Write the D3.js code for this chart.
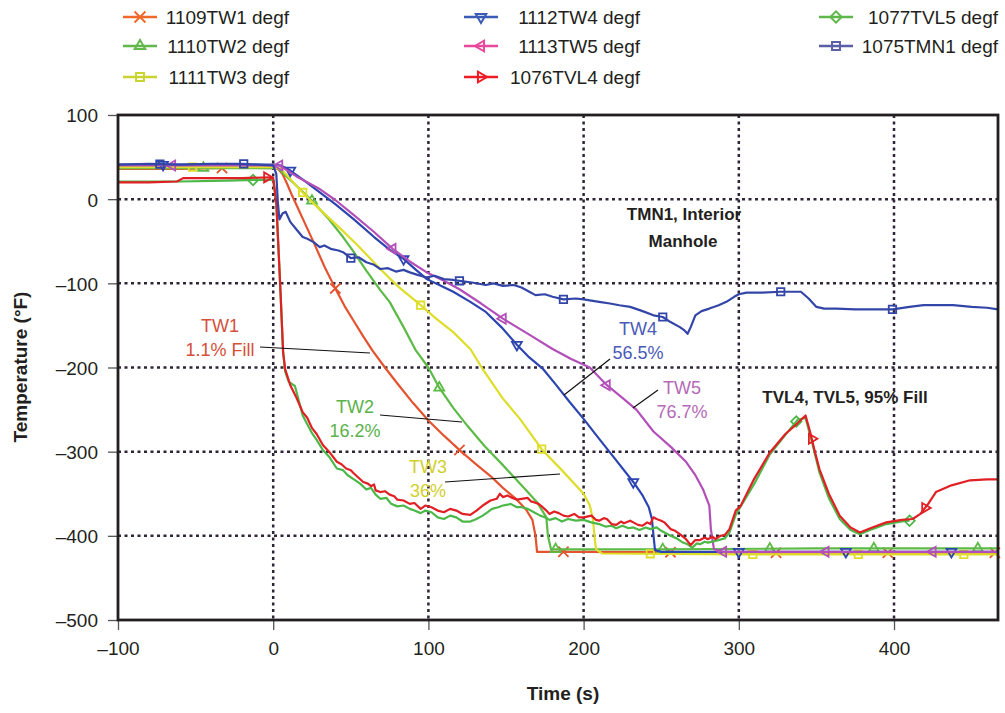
<!DOCTYPE html>
<html>
<head>
<meta charset="utf-8">
<script src="https://cdn.jsdelivr.net/npm/d3@7"></script>
<style>
  body { margin: 0; background: #fff; }
  svg { font-family: "Liberation Sans", Arial, sans-serif; }
  .grid line { stroke: #2e2436; stroke-width: 2.5; stroke-dasharray: 3,3.5; }
  .axis text { font-size: 19px; fill: #231f20; }
  .axis line { stroke: #555; stroke-width: 1.3; }
  .axis path { display: none; }
</style>
</head>
<body>
<svg width="1005" height="713"></svg>
<script>
// [time (s), temperature (°F)]
var tw1 = [[-100,36],[-60,36],[-30,37],[0,37],[3,36],[6,30],[9,18],[12,5],[15,-7],[20,-27],[26,-51],[33,-80],[40,-106],[46,-127],[52,-145],[58,-163],[64,-180],[72,-200],[80,-219],[90,-242],[100,-263],[110,-281],[120,-298],[130,-314],[140,-329],[148,-343],[157,-357],[163,-369],[167,-381],[169,-400],[170,-419],[200,-419],[300,-420],[400,-420],[467,-420]];
var tw2 = [[-100,37],[-50,37],[0,37],[3,37],[8,28],[15,16],[25,-2],[35,-22],[45,-45],[52,-63],[60,-85],[69,-108],[75,-122],[84,-152],[92,-180],[100,-200],[107,-224],[116,-248],[125,-269],[136,-293],[148,-316],[160,-340],[170,-360],[176,-378],[177,-400],[179,-416],[250,-416],[350,-415],[467,-415]];
var tw3 = [[-100,38],[-50,38],[0,38],[5,36],[12,22],[19,8],[26,-5],[34,-19],[45,-38],[55,-56],[69,-83],[80,-103],[95,-126],[105,-142],[116,-158],[127,-178],[135,-202],[148,-237],[159,-261],[173,-297],[187,-324],[200,-350],[204,-364],[206,-380],[207,-400],[208,-416],[212,-421],[300,-422],[467,-422]];
var tw4 = [[-100,41],[-50,41],[0,41],[5,40],[11,34],[20,22],[30,8],[40,-6],[52,-24],[65,-45],[75,-60],[84,-71],[92,-84],[99,-95],[108,-103],[116,-110],[127,-122],[137,-134],[147,-152],[157,-173],[165,-188],[174,-202],[182,-220],[191,-241],[200,-261],[208,-280],[220,-308],[232,-336],[238,-352],[242,-366],[244,-380],[245,-399],[246,-417],[250,-419],[467,-419]];
var tw5 = [[-100,40],[-50,40],[0,40],[4,40],[15,27],[30,12],[40,-1],[52,-19],[65,-39],[77,-59],[88,-74],[99,-87],[110,-97],[120,-107],[134,-124],[148,-142],[165,-161],[180,-178],[192,-190],[204,-200],[215,-221],[225,-236],[234,-250],[245,-276],[256,-294],[266,-312],[272,-328],[277,-345],[281,-364],[282,-392],[284,-416],[290,-419],[467,-419]];
var tvl4 = [[-100,20],[-80,20],[-62,21],[-58,25],[-40,25],[-20,25],[-2,26],[0,25],[2,-4],[4.5,-102],[6.4,-182],[7.7,-202],[11,-221],[15,-236],[19,-253],[22,-260],[25,-272],[28,-279],[32,-292],[36,-300],[41,-312],[44,-315],[47,-320],[50,-322],[52,-326],[55,-331],[58,-336],[61,-338],[63,-341],[65,-339],[66,-346],[69,-348],[72,-347],[75,-351],[78,-353],[80,-357],[84,-358],[88,-362],[91,-361],[95,-368],[98,-364],[102,-366],[106,-370],[110,-372],[114,-368],[118,-370],[122,-374],[127,-375],[131,-370],[135,-364],[140,-358],[144,-356],[146,-350],[148,-354],[151,-352],[153,-354],[157,-357],[160,-356],[164,-355],[166,-359],[168,-360],[171,-362],[173,-365],[176,-370],[178,-374],[181,-371],[184,-373],[187,-376],[190,-377],[194,-374],[197,-378],[200,-378],[205,-376],[208,-381],[210,-382],[213,-379],[215,-380],[218,-386],[221,-387],[224,-383],[226,-385],[230,-382],[232,-384],[235,-387],[238,-388],[241,-384],[243,-386],[245,-378],[247,-380],[250,-382],[252,-384],[256,-392],[259,-394],[262,-398],[266,-404],[269,-411],[272,-405],[275,-405],[278,-402],[280,-404],[283,-401],[285,-404],[288,-400],[291,-399],[294,-392],[298,-370],[301,-365],[310,-332],[320,-301],[330,-279],[338,-266],[343,-257],[346,-277],[349,-300],[352,-321],[358,-350],[365,-376],[372,-390],[378,-396],[386,-390],[395,-384],[405,-381],[412,-380],[417,-374],[422,-362],[427,-348],[437,-340],[449,-334],[460,-333],[467,-333]];
var tvl5 = [[-100,21],[-60,21],[-30,22],[-10,23],[0,23],[2,-4],[4.5,-102],[6.4,-182],[7.7,-205],[10,-217],[14,-222],[19,-257],[25,-278],[28,-286],[32,-298],[36,-306],[41,-320],[45,-322],[48,-328],[52,-333],[56,-338],[60,-345],[63,-343],[66,-351],[69,-356],[73,-355],[76,-362],[80,-365],[84,-364],[88,-368],[91,-370],[95,-373],[98,-370],[102,-372],[106,-378],[110,-380],[114,-376],[118,-378],[122,-383],[127,-383],[131,-380],[135,-376],[138,-372],[141,-368],[145,-366],[148,-364],[151,-363],[153,-362],[157,-366],[160,-366],[164,-368],[168,-372],[172,-376],[175,-378],[178,-381],[182,-379],[186,-383],[190,-380],[195,-382],[200,-381],[205,-384],[210,-386],[214,-389],[218,-388],[221,-391],[225,-388],[229,-391],[232,-390],[236,-393],[240,-390],[243,-392],[247,-390],[250,-394],[253,-397],[256,-400],[260,-403],[264,-408],[267,-410],[270,-414],[273,-409],[275,-410],[278,-407],[280,-408],[285,-406],[291,-403],[294,-396],[298,-375],[310,-338],[320,-303],[330,-280],[338,-262],[343,-260],[346,-280],[352,-325],[358,-355],[365,-380],[372,-393],[378,-398],[386,-392],[395,-386],[405,-383],[410,-382]];
var tmn1 = [[-100,41],[-80,42],[-60,41],[-40,42],[-20,42],[0,40],[2,30],[3,-4],[4,-24],[6,-17],[8,-15],[11,-27],[15,-36],[19,-45],[22,-47],[26,-51],[30,-57],[33,-55],[37,-59],[42,-61],[45,-63],[50,-70],[55,-69],[60,-75],[65,-78],[69,-83],[74,-82],[79,-86],[84,-84],[88,-87],[93,-90],[99,-93],[104,-91],[110,-95],[116,-96],[120,-97],[128,-99],[137,-102],[142,-100],[148,-103],[155,-102],[160,-105],[165,-110],[169,-114],[175,-113],[180,-116],[187,-119],[195,-118],[200,-119],[210,-122],[217,-124],[223,-126],[230,-128],[238,-133],[245,-138],[251,-140],[256,-146],[262,-152],[265,-156],[267,-160],[269,-152],[272,-138],[276,-133],[281,-130],[287,-126],[292,-122],[297,-116],[300,-113],[305,-111],[315,-111],[327,-110],[335,-110],[340,-110],[345,-118],[350,-128],[355,-130],[363,-130],[375,-131],[390,-131],[399,-131],[410,-128],[419,-126],[430,-126],[438,-126],[450,-128],[460,-129],[467,-131]];

// times where the series markers sit
var tw1Marks = [-33, 40, 120, 187, 256, 324, 396, 465];
var tw2Marks = [-45, 25, 107, 182, 251, 320, 387, 454];
var tw3Marks = [-52, 19, 95, 173, 243, 309, 377, 445];
var tw4Marks = [-71, 11, 84, 157, 232, 300, 369, 437];
var tw5Marks = [-65, 4, 77, 148, 215, 290, 356, 425];
var tvl4Marks = [-4, 347, 420];
var tvl5Marks = [-13, 337, 410];
var tmn1Marks = [-73, -19, 50, 120, 187, 251, 327, 399];

var xTicks = [-100, 0, 100, 200, 300, 400];
var yTicks = [-500, -400, -300, -200, -100, 0, 100];

var series = [
  {name: "1109TW1 degf", data: tw1, marks: tw1Marks, color: "#e4532f", legend: "#ef6a2a", shape: "x"},
  {name: "1110TW2 degf", data: tw2, marks: tw2Marks, color: "#5cba46", legend: "#62b84a", shape: "up"},
  {name: "1111TW3 degf", data: tw3, marks: tw3Marks, color: "#dede2a", legend: "#c9d433", shape: "square"},
  {name: "1112TW4 degf", data: tw4, marks: tw4Marks, color: "#2d45b0", legend: "#3b5bb5", shape: "down"},
  {name: "1113TW5 degf", data: tw5, marks: tw5Marks, color: "#b24fb8", legend: "#e8479b", shape: "left"},
  {name: "1076TVL4 degf", data: tvl4, marks: tvl4Marks, color: "#e02024", legend: "#ee1c25", shape: "right"},
  {name: "1077TVL5 degf", data: tvl5, marks: tvl5Marks, color: "#4cb848", legend: "#5fb94a", shape: "diamond"},
  {name: "1075TMN1 degf", data: tmn1, marks: tmn1Marks, color: "#3346a8", legend: "#5a5fa8", shape: "square"}
];

var svg = d3.select("svg");
var x = d3.scaleLinear().domain([-100, 467]).range([118, 998]);
var y = d3.scaleLinear().domain([-500, 100]).range([620, 115]);

function fmt(d) { return d < 0 ? "\u2013" + Math.abs(d) : d; }

// grid
var grid = svg.append("g").attr("class", "grid");
grid.selectAll(".gx").data(xTicks.filter(function(d) { return d > -100; }))
  .enter().append("line")
    .attr("x1", function(d) { return x(d); }).attr("x2", function(d) { return x(d); })
    .attr("y1", y(100)).attr("y2", y(-500));
grid.selectAll(".gy").data(yTicks.filter(function(d) { return d > -500 && d < 100; }))
  .enter().append("line")
    .attr("y1", function(d) { return y(d); }).attr("y2", function(d) { return y(d); })
    .attr("x1", x(-100)).attr("x2", x(467));

// axes
svg.append("g").attr("class", "axis")
    .attr("transform", "translate(" + x(-100) + ",0)")
    .call(d3.axisLeft(y).tickValues(yTicks).tickSize(10).tickPadding(10).tickFormat(fmt))
  .selectAll("text").attr("dy", "0.36em");
svg.append("g").attr("class", "axis")
    .attr("transform", "translate(0," + y(-500) + ")")
    .call(d3.axisBottom(x).tickValues(xTicks).tickSize(10).tickPadding(12).tickFormat(fmt));

function shapePath(s, size) {
  if (s === "x") return d3.symbol(d3.symbolTimes, size)();
  if (s === "square") return d3.symbol(d3.symbolSquare2, size)();
  if (s === "diamond") return d3.symbol(d3.symbolSquare2, size)();
  return d3.symbol(d3.symbolTriangle2, size)();
}
function shapeRot(s) {
  return {down: 180, left: -90, right: 90, diamond: 45}[s] || 0;
}
function valueAt(data, t) {
  var i = d3.bisector(function(d) { return d[0]; }).left(data, t);
  if (i <= 0) return data[0][1];
  if (i >= data.length) return data[data.length - 1][1];
  var a = data[i - 1], b = data[i];
  return a[1] + (b[1] - a[1]) * (t - a[0]) / (b[0] - a[0]);
}

var line = d3.line().x(function(d) { return x(d[0]); }).y(function(d) { return y(d[1]); });
var drawOrder = [0, 1, 2, 3, 4, 6, 5, 7];
var plot = svg.append("g");
drawOrder.forEach(function(k) {
  var s = series[k];
  plot.append("path").datum(s.data)
    .attr("d", line).attr("fill", "none")
    .attr("stroke", s.color).attr("stroke-width", 2.2).attr("stroke-linejoin", "round");
  plot.selectAll(null).data(s.marks.filter(function(t) { return t <= d3.max(s.data, function(d) { return d[0]; }); }))
    .enter().append("path")
      .attr("d", shapePath(s.shape, 70))
      .attr("transform", function(t) {
        return "translate(" + x(t) + "," + y(valueAt(s.data, t)) + ") rotate(" + shapeRot(s.shape) + ")";
      })
      .attr("fill", "none").attr("stroke", s.color).attr("stroke-width", 1.8);
});

// frame
svg.append("rect")
  .attr("x", x(-100)).attr("y", y(100))
  .attr("width", x(467) - x(-100)).attr("height", y(-500) - y(100))
  .attr("fill", "none").attr("stroke", "#231f20").attr("stroke-width", 2.8);

// axis titles
svg.append("text").attr("x", 563).attr("y", 700).attr("text-anchor", "middle")
  .attr("font-size", 19).attr("font-weight", "bold").attr("fill", "#231f20").text("Time (s)");
svg.append("text").attr("transform", "translate(27,367) rotate(-90)").attr("text-anchor", "middle")
  .attr("font-size", 19).attr("font-weight", "bold").attr("fill", "#231f20").text("Temperature (\u00b0F)");

// legend
var legendCols = [{mx: 140, tx: 289}, {mx: 481, tx: 640}, {mx: 836, tx: 998}];
var legendPos = [[0, 0], [0, 1], [0, 2], [1, 0], [1, 1], [1, 2], [2, 0], [2, 1]];
var legendRows = [17, 46, 77];
series.forEach(function(s, i) {
  var c = legendCols[legendPos[i][0]], ry = legendRows[legendPos[i][1]];
  var g = svg.append("g");
  g.append("line").attr("x1", c.mx - 17).attr("x2", c.mx + 17).attr("y1", ry).attr("y2", ry)
    .attr("stroke", s.legend).attr("stroke-width", 2.5);
  g.append("path").attr("d", shapePath(s.shape, 80))
    .attr("transform", "translate(" + c.mx + "," + ry + ") rotate(" + shapeRot(s.shape) + ")")
    .attr("fill", "none").attr("stroke", s.legend).attr("stroke-width", 2);
  g.append("text").attr("x", c.tx).attr("y", ry).attr("dy", "0.36em").attr("text-anchor", "end")
    .attr("font-size", 19).attr("fill", "#231f20").text(s.name);
});

// annotations
var notes = [
  {lines: ["TW1", "1.1% Fill"], cx: 220, y0: 332, color: "#d5503a", from: [260, 347], to: [370, 353]},
  {lines: ["TW2", "16.2%"], cx: 355, y0: 413, color: "#5ab24a", from: [380, 415], to: [462, 422]},
  {lines: ["TW3", "36%"], cx: 428, y0: 473, color: "#d2cf2c", from: [445, 482], to: [560, 474]},
  {lines: ["TW4", "56.5%"], cx: 638, y0: 335, color: "#4a5ab8", from: [610, 359], to: [564, 395]},
  {lines: ["TW5", "76.7%"], cx: 682, y0: 394, color: "#b56ab8", from: [658, 390], to: [633, 408]}
];
notes.forEach(function(n) {
  svg.append("line").attr("x1", n.from[0]).attr("y1", n.from[1]).attr("x2", n.to[0]).attr("y2", n.to[1])
    .attr("stroke", "#111").attr("stroke-width", 1.2);
  n.lines.forEach(function(t, j) {
    svg.append("text").attr("x", n.cx).attr("y", n.y0 + j * 24).attr("text-anchor", "middle")
      .attr("font-size", 18).attr("fill", n.color).text(t);
  });
});
var boldNotes = [
  {text: "TMN1, Interior", x: 684, y: 220},
  {text: "Manhole", x: 683, y: 247},
  {text: "TVL4, TVL5, 95% Fill", x: 845, y: 403}
];
boldNotes.forEach(function(n) {
  svg.append("text").attr("x", n.x).attr("y", n.y).attr("text-anchor", "middle")
    .attr("font-size", 17).attr("font-weight", "bold").attr("fill", "#231f20").text(n.text);
});
</script>
</body>
</html>
